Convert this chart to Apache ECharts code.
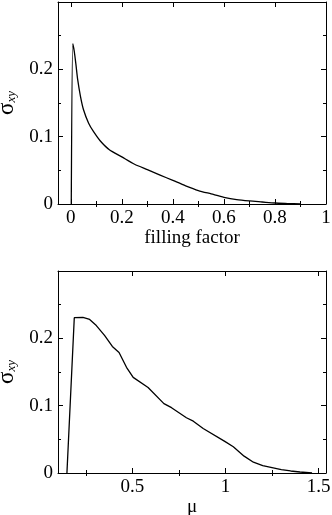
<!DOCTYPE html>
<html>
<head>
<meta charset="utf-8">
<script src="https://cdn.jsdelivr.net/npm/echarts@6.0.0/dist/echarts.min.js"></script>
<style>
  html, body { margin: 0; padding: 0; background: #fff; }
  #chart { width: 332px; height: 515px; }
</style>
</head>
<body>
<div id="chart"></div>
<script>
// top panel: sigma_xy vs filling factor
const fillX = [0.002, 0.008, 0.014, 0.02, 0.027, 0.038, 0.05, 0.07, 0.09, 0.115, 0.15, 0.2, 0.25, 0.3, 0.35, 0.4, 0.45, 0.5, 0.55, 0.6, 0.65, 0.7, 0.75, 0.8, 0.85, 0.9];
const fillY = [0, 0.238, 0.226, 0.208, 0.185, 0.16, 0.14, 0.12, 0.107, 0.094, 0.081, 0.07, 0.059, 0.051, 0.043, 0.035, 0.027, 0.02, 0.015, 0.01, 0.0065, 0.0045, 0.003, 0.0015, 0.0007, 0];

// bottom panel: sigma_xy vs mu
const muX = [0.148, 0.1875, 0.234, 0.27, 0.306, 0.351, 0.392, 0.428, 0.468, 0.504, 0.584, 0.669, 0.71, 0.79, 0.827, 0.88, 0.996, 1.042, 1.1, 1.15, 1.2, 1.25, 1.3, 1.35, 1.4, 1.465];
const muY = [0, 0.2307, 0.231, 0.228, 0.219, 0.204, 0.188, 0.179, 0.157, 0.142, 0.127, 0.103, 0.097, 0.082, 0.077, 0.066, 0.047, 0.039, 0.025, 0.016, 0.011, 0.008, 0.005, 0.003, 0.0015, 0];

const topMajor = [0, 0.2, 0.4, 0.6, 0.8, 1];
const topMinor = [0.1, 0.3, 0.5, 0.7, 0.9];
const botMajor = [0.5, 1, 1.5];
const botMinor = [0.25, 0.75, 1.25];

const font = 'Liberation Serif';
const black = '#000';

const chart = echarts.init(document.getElementById('chart'));

function xAxes(gridIndex, min, max, major, minor, name, nameGap) {
  const base = {
    type: 'value', gridIndex, min, max,
    splitLine: { show: false }
  };
  return [
    Object.assign({}, base, {
      position: 'bottom',
      axisLine: { show: true, onZero: false, lineStyle: { color: black, width: 1 } },
      axisTick: { show: true, inside: true, length: 5, customValues: major, lineStyle: { color: black } },
      axisLabel: { show: true, customValues: major, margin: 5, color: black, fontFamily: font, fontSize: 19 },
      name, nameLocation: 'middle', nameGap,
      nameTextStyle: { color: black, fontFamily: font, fontSize: 19 }
    }),
    Object.assign({}, base, {
      position: 'bottom',
      axisLine: { show: false },
      axisTick: { show: true, inside: true, length: 3, customValues: minor, lineStyle: { color: black } },
      axisLabel: { show: false }
    }),
    Object.assign({}, base, {
      position: 'top',
      axisLine: { show: true, onZero: false, lineStyle: { color: black, width: 1 } },
      axisTick: { show: true, inside: true, length: 5, customValues: major, lineStyle: { color: black } },
      axisLabel: { show: false }
    }),
    Object.assign({}, base, {
      position: 'top',
      axisLine: { show: false },
      axisTick: { show: true, inside: true, length: 3, customValues: minor, lineStyle: { color: black } },
      axisLabel: { show: false }
    })
  ];
}

function yAxes(gridIndex) {
  const base = {
    type: 'value', gridIndex, min: 0, max: 0.3, interval: 0.1,
    splitLine: { show: false },
    axisLine: { show: true, onZero: false, lineStyle: { color: black, width: 1 } },
    axisTick: { show: true, inside: true, length: 5, lineStyle: { color: black } },
    minorTick: { show: true, splitNumber: 2, length: 3, lineStyle: { color: black } }
  };
  return [
    Object.assign({}, base, {
      position: 'left',
      axisLabel: {
        margin: 5, color: black, fontFamily: font, fontSize: 19,
        formatter: v => (v > 0.25 ? '' : String(+v.toFixed(2)))
      },
      name: '{s|σ}{sub|xy}',
      nameLocation: 'middle', nameGap: 36, nameRotate: 90,
      nameTextStyle: {
        rich: {
          s: { fontFamily: font, fontSize: 23, color: black, verticalAlign: 'bottom' },
          sub: { fontFamily: font, fontSize: 13, fontStyle: 'italic', color: black, verticalAlign: 'bottom' }
        }
      }
    }),
    Object.assign({}, base, {
      position: 'right',
      axisLabel: { show: false }
    })
  ];
}

const lineStyle = { color: black, width: 1.3 };

chart.setOption({
  animation: false,
  backgroundColor: '#fff',
  grid: [
    { left: 58, top: 2, width: 268, height: 202, outerBoundsMode: 'none' },
    { left: 58, top: 271, width: 268, height: 202, outerBoundsMode: 'none' }
  ],
  xAxis: [].concat(
    xAxes(0, -0.05, 1, topMajor, topMinor, 'filling factor', 21),
    xAxes(1, 0.1, 1.54, botMajor, botMinor, 'μ', 13)
  ),
  yAxis: [].concat(yAxes(0), yAxes(1)),
  series: [
    {
      type: 'line', xAxisIndex: 0, yAxisIndex: 0,
      data: fillX.map((x, i) => [x, fillY[i]]),
      showSymbol: false, smooth: 0.25, lineStyle
    },
    {
      type: 'line', xAxisIndex: 4, yAxisIndex: 2,
      data: muX.map((x, i) => [x, muY[i]]),
      showSymbol: false, lineStyle
    }
  ]
});
</script>
</body>
</html>
